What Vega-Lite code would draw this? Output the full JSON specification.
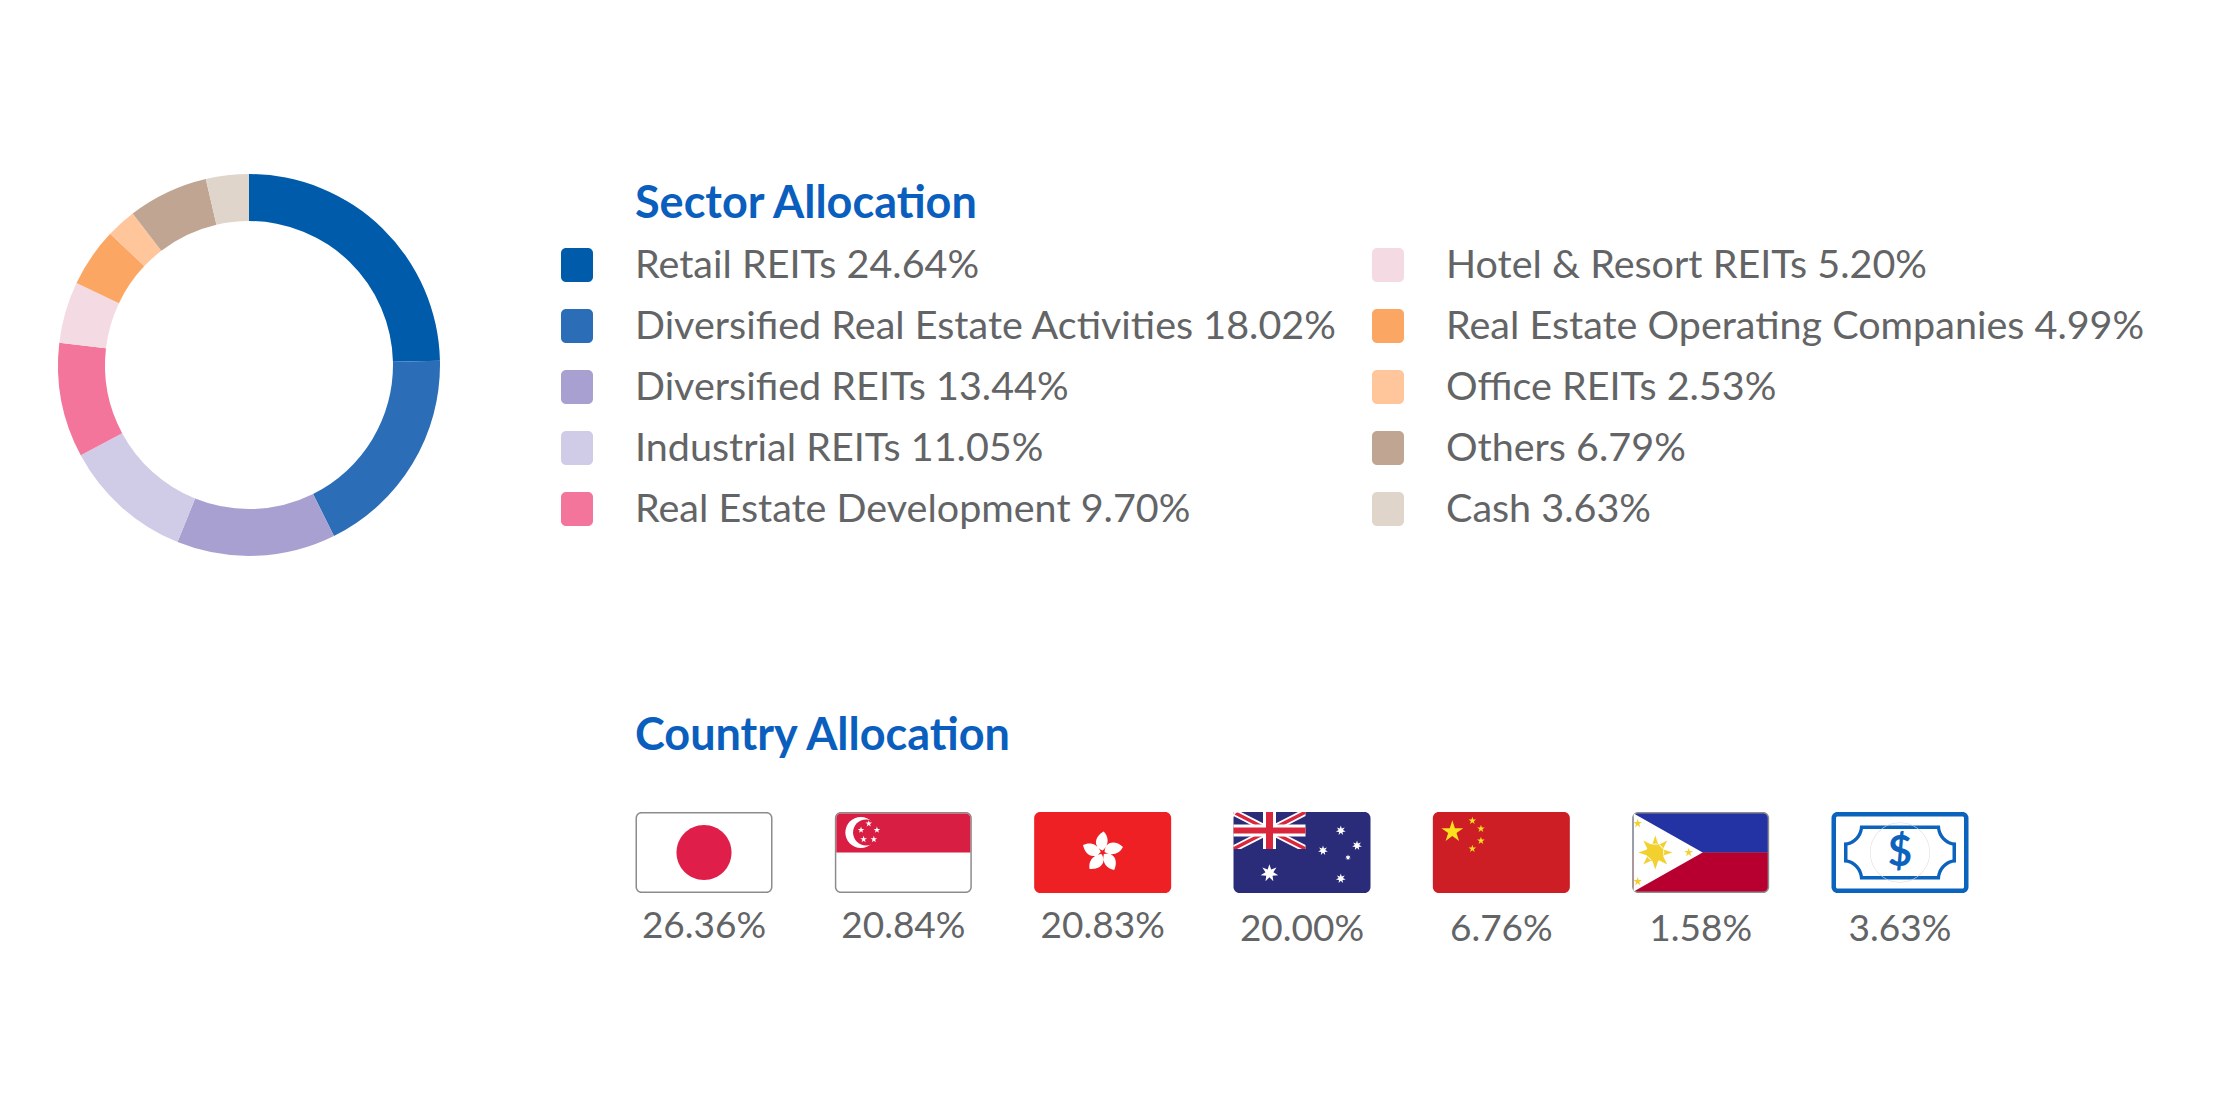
{
  "$schema": "https://vega.github.io/schema/vega-lite/v6.json",
  "background": "white",
  "padding": {"left": 0, "top": 174, "right": 0, "bottom": 109},
  "bounds": "flush",
  "spacing": 63,
  "resolve": {"scale": {"fill": "independent", "color": "independent", "shape": "independent"}},
  "datasets": {
    "sectors": [
      {"sector": "Retail REITs", "share": 24.64, "label": "Retail REITs 24.64%", "rank": 1, "col": 1, "row": 1},
      {"sector": "Diversified Real Estate Activities", "share": 18.02, "label": "Diversified Real Estate Activities 18.02%", "rank": 2, "col": 1, "row": 2},
      {"sector": "Diversified REITs", "share": 13.44, "label": "Diversified REITs 13.44%", "rank": 3, "col": 1, "row": 3},
      {"sector": "Industrial REITs", "share": 11.05, "label": "Industrial REITs 11.05%", "rank": 4, "col": 1, "row": 4},
      {"sector": "Real Estate Development", "share": 9.70, "label": "Real Estate Development 9.70%", "rank": 5, "col": 1, "row": 5},
      {"sector": "Hotel & Resort REITs", "share": 5.20, "label": "Hotel & Resort REITs 5.20%", "rank": 6, "col": 2, "row": 1},
      {"sector": "Real Estate Operating Companies", "share": 4.99, "label": "Real Estate Operating Companies 4.99%", "rank": 7, "col": 2, "row": 2},
      {"sector": "Office REITs", "share": 2.53, "label": "Office REITs 2.53%", "rank": 8, "col": 2, "row": 3},
      {"sector": "Others", "share": 6.79, "label": "Others 6.79%", "rank": 9, "col": 2, "row": 4},
      {"sector": "Cash", "share": 3.63, "label": "Cash 3.63%", "rank": 10, "col": 2, "row": 5}
    ],
    "countries": [
      {"country": "Japan", "label": "26.36%", "line": "upper"},
      {"country": "Singapore", "label": "20.84%", "line": "upper"},
      {"country": "Hong Kong", "label": "20.83%", "line": "upper"},
      {"country": "Australia", "label": "20.00%", "line": "lower"},
      {"country": "China", "label": "6.76%", "line": "lower"},
      {"country": "Philippines", "label": "1.58%", "line": "lower"},
      {"country": "Cash", "label": "3.63%", "line": "lower"}
    ],
    "flag_parts": [
      {"country": "Japan", "part": "jp-frame"},
      {"country": "Japan", "part": "jp-white"},
      {"country": "Japan", "part": "jp-disc"},
      {"country": "Singapore", "part": "sg-frame"},
      {"country": "Singapore", "part": "sg-white"},
      {"country": "Singapore", "part": "sg-red"},
      {"country": "Singapore", "part": "sg-crescent"},
      {"country": "Singapore", "part": "sg-cut"},
      {"country": "Singapore", "part": "sg-stars"},
      {"country": "Hong Kong", "part": "hk-red"},
      {"country": "Hong Kong", "part": "hk-flower"},
      {"country": "Australia", "part": "au-blue"},
      {"country": "Australia", "part": "au-white-diagonals"},
      {"country": "Australia", "part": "au-red-diagonals"},
      {"country": "Australia", "part": "au-white-cross"},
      {"country": "Australia", "part": "au-red-cross"},
      {"country": "Australia", "part": "au-corner"},
      {"country": "Australia", "part": "au-stars"},
      {"country": "China", "part": "cn-red"},
      {"country": "China", "part": "cn-stars"},
      {"country": "Philippines", "part": "ph-frame"},
      {"country": "Philippines", "part": "ph-blue"},
      {"country": "Philippines", "part": "ph-red"},
      {"country": "Philippines", "part": "ph-white"},
      {"country": "Philippines", "part": "ph-gold"},
      {"country": "Cash", "part": "cash-outer"},
      {"country": "Cash", "part": "cash-inner"},
      {"country": "Cash", "part": "cash-note"},
      {"country": "Cash", "part": "cash-note-inner"},
      {"country": "Cash", "part": "cash-ring"}
    ]
  },
  "hconcat": [
    {
      "width": 498,
      "height": 382,
      "data": {"name": "sectors"},
      "mark": {"type": "arc", "innerRadius": 144, "outerRadius": 191},
      "encoding": {
        "theta": {"field": "share", "type": "quantitative", "stack": true},
        "order": {"field": "rank", "type": "quantitative"},
        "color": {
          "field": "sector",
          "type": "nominal",
          "legend": null,
          "scale": {
            "domain": ["Retail REITs", "Diversified Real Estate Activities", "Diversified REITs", "Industrial REITs", "Real Estate Development", "Hotel & Resort REITs", "Real Estate Operating Companies", "Office REITs", "Others", "Cash"],
            "range": ["#005BAA", "#2B6EB7", "#A8A0D0", "#D0CBE6", "#F4759B", "#F3DAE3", "#FBA763", "#FFC59B", "#BFA592", "#E0D5CB"]
          }
        }
      }
    },
    {
      "spacing": 0,
      "bounds": "flush",
      "resolve": {"scale": {"fill": "independent", "color": "independent", "shape": "independent"}},
      "vconcat": [
        {
          "width": 1659,
          "height": 526,
          "encoding": {
            "x": {"field": "col", "type": "ordinal", "axis": null, "scale": {"type": "point", "padding": 0, "domain": [1, 2], "range": [16, 827]}},
            "y": {"field": "row", "type": "ordinal", "axis": null, "scale": {"type": "point", "padding": 0, "domain": [0, 1, 2, 3, 4, 5], "range": [30, 335]}}
          },
          "layer": [
            {
              "data": {"name": "sectors"},
              "mark": {"type": "point", "filled": true, "opacity": 1, "size": 4, "strokeWidth": 0, "shape": "M-16 -12 A5 5 0 0 1 -11 -17 L11 -17 A5 5 0 0 1 16 -12 L16 12 A5 5 0 0 1 11 17 L-11 17 A5 5 0 0 1 -16 12 Z"},
              "encoding": {
                "fill": {
                  "field": "sector",
                  "type": "nominal",
                  "legend": null,
                  "scale": {
                    "domain": ["Retail REITs", "Diversified Real Estate Activities", "Diversified REITs", "Industrial REITs", "Real Estate Development", "Hotel & Resort REITs", "Real Estate Operating Companies", "Office REITs", "Others", "Cash"],
                    "range": ["#005BAA", "#2B6EB7", "#A8A0D0", "#D0CBE6", "#F4759B", "#F3DAE3", "#FBA763", "#FFC59B", "#BFA592", "#E0D5CB"]
                  }
                }
              }
            },
            {
              "data": {"name": "sectors"},
              "mark": {"type": "text", "align": "left", "baseline": "middle", "dx": 58, "dy": 1, "font": "Lato", "fontSize": 39.5, "color": "#636466"},
              "encoding": {"text": {"field": "label"}}
            },
            {
              "data": {"values": [{"col": 1, "row": 0, "heading": "Sector Allocation"}]},
              "mark": {"type": "text", "align": "left", "baseline": "middle", "dx": 58, "dy": 0, "font": "Lato", "fontSize": 45, "fontWeight": "bold", "color": "#0A5EBD"},
              "encoding": {"text": {"field": "heading"}}
            }
          ]
        },
        {
          "width": 1659,
          "height": 305,
          "encoding": {
            "x": {
              "field": "country",
              "type": "nominal",
              "axis": null,
              "scale": {"type": "point", "padding": 0, "domain": ["Japan", "Singapore", "Hong Kong", "Australia", "China", "Philippines", "Cash"], "range": [143, 1339]}
            }
          },
          "layer": [
            {
              "data": {"name": "flag_parts"},
              "mark": {"type": "point", "filled": true, "opacity": 1, "size": 4, "strokeWidth": 0},
              "encoding": {
                "shape": {
                  "field": "part",
                  "type": "nominal",
                  "legend": null,
                  "scale": {
                    "domain": ["jp-frame", "jp-white", "jp-disc", "sg-frame", "sg-white", "sg-red", "sg-crescent", "sg-cut", "sg-stars", "hk-red", "hk-flower", "au-blue", "au-white-diagonals", "au-red-diagonals", "au-white-cross", "au-red-cross", "au-corner", "au-stars", "cn-red", "cn-stars", "ph-frame", "ph-blue", "ph-red", "ph-white", "ph-gold", "cash-outer", "cash-inner", "cash-note", "cash-note-inner", "cash-ring"],
                    "range": [
                      "M-68.5 -34.5 A6 6 0 0 1 -62.5 -40.5 L62.5 -40.5 A6 6 0 0 1 68.5 -34.5 L68.5 34.5 A6 6 0 0 1 62.5 40.5 L-62.5 40.5 A6 6 0 0 1 -68.5 34.5 Z",
                      "M-67 -34.5 A4.5 4.5 0 0 1 -62.5 -39 L62.5 -39 A4.5 4.5 0 0 1 67 -34.5 L67 34.5 A4.5 4.5 0 0 1 62.5 39 L-62.5 39 A4.5 4.5 0 0 1 -67 34.5 Z",
                      "M-27.5 0 A27.5 27.5 0 1 0 27.5 0 A27.5 27.5 0 1 0 -27.5 0 Z",
                      "M-68.5 -34.5 A6 6 0 0 1 -62.5 -40.5 L62.5 -40.5 A6 6 0 0 1 68.5 -34.5 L68.5 34.5 A6 6 0 0 1 62.5 40.5 L-62.5 40.5 A6 6 0 0 1 -68.5 34.5 Z",
                      "M-67 -34.5 A4.5 4.5 0 0 1 -62.5 -39 L62.5 -39 A4.5 4.5 0 0 1 67 -34.5 L67 34.5 A4.5 4.5 0 0 1 62.5 39 L-62.5 39 A4.5 4.5 0 0 1 -67 34.5 Z",
                      "M-67 -34.5 A4.5 4.5 0 0 1 -62.5 -39 L62.5 -39 A4.5 4.5 0 0 1 67 -34.5 L67 0 L-67 0 Z",
                      "M-58 -20 A15.5 15.5 0 1 0 -27 -20 A15.5 15.5 0 1 0 -58 -20 Z",
                      "M-50.3 -20 A13 13 0 1 0 -24.3 -20 A13 13 0 1 0 -50.3 -20 Z",
                      "M-34.6 -32.3 l 0.79 2.42 l 2.54 0 l -2.06 1.49 l 0.79 2.42 l -2.06 -1.49 l -2.06 1.49 l 0.79 -2.42 l -2.06 -1.49 l 2.54 0 Z M-42.3 -26 l 0.79 2.42 l 2.54 0 l -2.06 1.49 l 0.79 2.42 l -2.06 -1.49 l -2.06 1.49 l 0.79 -2.42 l -2.06 -1.49 l 2.54 0 Z M-26.4 -26 l 0.79 2.42 l 2.54 0 l -2.06 1.49 l 0.79 2.42 l -2.06 -1.49 l -2.06 1.49 l 0.79 -2.42 l -2.06 -1.49 l 2.54 0 Z M-39.7 -16.7 l 0.79 2.42 l 2.54 0 l -2.06 1.49 l 0.79 2.42 l -2.06 -1.49 l -2.06 1.49 l 0.79 -2.42 l -2.06 -1.49 l 2.54 0 Z M-29.5 -16.7 l 0.79 2.42 l 2.54 0 l -2.06 1.49 l 0.79 2.42 l -2.06 -1.49 l -2.06 1.49 l 0.79 -2.42 l -2.06 -1.49 l 2.54 0 Z",
                      "M-68.5 -34.5 A6 6 0 0 1 -62.5 -40.5 L62.5 -40.5 A6 6 0 0 1 68.5 -34.5 L68.5 34.5 A6 6 0 0 1 62.5 40.5 L-62.5 40.5 A6 6 0 0 1 -68.5 34.5 Z",
                      "M0 -2 C-10 -6 -8 -16 1 -21 C6 -16 7 -8 0 -2 Z M1.9 -0.62 C2.62 -11.36 12.75 -12.55 20.28 -5.54 C17.07 0.77 9.77 4.19 1.9 -0.62 Z M1.18 1.62 C11.62 -1.03 15.88 8.24 11.54 17.57 C4.56 16.47 -0.96 10.59 1.18 1.62 Z M-1.18 1.62 C4.56 10.73 -2.94 17.64 -13.16 16.4 C-14.26 9.41 -10.36 2.35 -1.18 1.62 Z M-1.9 -0.62 C-8.8 7.66 -17.69 2.67 -19.66 -7.44 C-13.37 -10.65 -5.45 -9.13 -1.9 -0.62 Z",
                      "M-68.5 -34.5 A6 6 0 0 1 -62.5 -40.5 L62.5 -40.5 A6 6 0 0 1 68.5 -34.5 L68.5 34.5 A6 6 0 0 1 62.5 40.5 L-62.5 40.5 A6 6 0 0 1 -68.5 34.5 Z",
                      "M-68.5 -36.5 L-68.5 -40.5 L-61 -40.5 L3.5 -7.5 L3.5 -3.5 L-4 -3.5 Z M-68.5 -7.5 L-68.5 -3.5 L-61 -3.5 L3.5 -36.5 L3.5 -40.5 L-4 -40.5 Z",
                      "M-68.5 -40.5 L-65 -40.5 L3.5 -5.5 L3.5 -3.5 L0 -3.5 L-68.5 -38.5 Z M-68.5 -3.5 L-65 -3.5 L3.5 -38.5 L3.5 -40.5 L0 -40.5 L-68.5 -5.5 Z",
                      "M-39 -40.5 L-26 -40.5 L-26 -28 L3.5 -28 L3.5 -16 L-26 -16 L-26 -3.5 L-39 -3.5 L-39 -16 L-68.5 -16 L-68.5 -28 L-39 -28 Z",
                      "M-36 -40.5 L-29 -40.5 L-29 -25 L3.5 -25 L3.5 -19 L-29 -19 L-29 -3.5 L-36 -3.5 L-36 -19 L-68.5 -19 L-68.5 -25 L-36 -25 Z",
                      "M-68.5 -40.5 L-62.5 -40.5 A6 6 0 0 0 -68.5 -34.5 Z",
                      "M-32.6 11.7 L-30.84 17.05 L-25.56 15.09 L-28.65 19.8 L-23.82 22.71 L-29.43 23.22 L-28.69 28.81 L-32.6 24.75 L-36.51 28.81 L-35.77 23.22 L-41.38 22.71 L-36.55 19.8 L-39.64 15.09 L-34.36 17.05 Z M38.8 -27 l 0.98 2.97 l 2.93 -1.09 l -1.72 2.62 l 2.69 1.62 l -3.12 0.28 l 0.41 3.1 l -2.17 -2.25 l -2.17 2.25 l 0.41 -3.1 l -3.12 -0.28 l 2.69 -1.62 l -1.72 -2.62 l 2.93 1.09 Z M55 -12 l 0.98 2.97 l 2.93 -1.09 l -1.72 2.62 l 2.69 1.62 l -3.12 0.28 l 0.41 3.1 l -2.17 -2.25 l -2.17 2.25 l 0.41 -3.1 l -3.12 -0.28 l 2.69 -1.62 l -1.72 -2.62 l 2.93 1.09 Z M21 -7 l 0.98 2.97 l 2.93 -1.09 l -1.72 2.62 l 2.69 1.62 l -3.12 0.28 l 0.41 3.1 l -2.17 -2.25 l -2.17 2.25 l 0.41 -3.1 l -3.12 -0.28 l 2.69 -1.62 l -1.72 -2.62 l 2.93 1.09 Z M38.8 21 l 0.98 2.97 l 2.93 -1.09 l -1.72 2.62 l 2.69 1.62 l -3.12 0.28 l 0.41 3.1 l -2.17 -2.25 l -2.17 2.25 l 0.41 -3.1 l -3.12 -0.28 l 2.69 -1.62 l -1.72 -2.62 l 2.93 1.09 Z M46 2 l 0.59 1.78 l 1.76 -0.65 l -1.03 1.57 l 1.61 0.97 l -1.87 0.17 l 0.25 1.86 l -1.3 -1.35 l -1.3 1.35 l 0.25 -1.86 l -1.87 -0.17 l 1.61 -0.97 l -1.03 -1.57 l 1.76 0.65 Z",
                      "M-68.5 -34.5 A6 6 0 0 1 -62.5 -40.5 L62.5 -40.5 A6 6 0 0 1 68.5 -34.5 L68.5 34.5 A6 6 0 0 1 62.5 40.5 L-62.5 40.5 A6 6 0 0 1 -68.5 34.5 Z",
                      "M-49 -32.3 l 2.58 7.95 l 8.35 0 l -6.76 4.91 l 2.59 7.95 l -6.76 -4.91 l -6.76 4.91 l 2.59 -7.95 l -6.76 -4.91 l 8.35 0 Z M-29 -35.8 l 0.9 2.76 l 2.91 0 l -2.35 1.71 l 0.9 2.76 l -2.35 -1.71 l -2.35 1.71 l 0.9 -2.76 l -2.35 -1.71 l 2.91 0 Z M-20.4 -27.8 l 0.9 2.76 l 2.91 0 l -2.35 1.71 l 0.9 2.76 l -2.35 -1.71 l -2.35 1.71 l 0.9 -2.76 l -2.35 -1.71 l 2.91 0 Z M-20.4 -15.8 l 0.9 2.76 l 2.91 0 l -2.35 1.71 l 0.9 2.76 l -2.35 -1.71 l -2.35 1.71 l 0.9 -2.76 l -2.35 -1.71 l 2.91 0 Z M-29 -7.8 l 0.9 2.76 l 2.91 0 l -2.35 1.71 l 0.9 2.76 l -2.35 -1.71 l -2.35 1.71 l 0.9 -2.76 l -2.35 -1.71 l 2.91 0 Z",
                      "M-68.5 -34.5 A6 6 0 0 1 -62.5 -40.5 L62.5 -40.5 A6 6 0 0 1 68.5 -34.5 L68.5 34.5 A6 6 0 0 1 62.5 40.5 L-62.5 40.5 A6 6 0 0 1 -68.5 34.5 Z",
                      "M-67 -34.5 A4.5 4.5 0 0 1 -62.5 -39 L62.5 -39 A4.5 4.5 0 0 1 67 -34.5 L67 0 L-67 0 Z",
                      "M-67 0 L67 0 L67 34.5 A4.5 4.5 0 0 1 62.5 39 L-62.5 39 A4.5 4.5 0 0 1 -67 34.5 Z",
                      "M-67 -39 L2 0 L-67 39 Z",
                      "M-54.4 0 A9 9 0 1 0 -36.4 0 A9 9 0 1 0 -54.4 0 Z M-48.4 -8 L-45.4 -17 L-42.4 -8 Z M-48.4 8 L-45.4 17 L-42.4 8 Z M-53.4 -3 L-62.4 0 L-53.4 3 Z M-37.4 -3 L-28.4 0 L-37.4 3 Z M-41.86 -7.78 L-33.4 -12 L-37.62 -3.54 Z M-48.94 -7.78 L-57.4 -12 L-53.18 -3.54 Z M-41.86 7.78 L-33.4 12 L-37.62 3.54 Z M-48.94 7.78 L-57.4 12 L-53.18 3.54 Z M-63 -33.5 l 1.01 3.11 l 3.27 0 l -2.65 1.92 l 1.01 3.11 l -2.65 -1.92 l -2.65 1.92 l 1.01 -3.11 l -2.65 -1.92 l 3.27 0 Z M-63 24.5 l 1.01 3.11 l 3.27 0 l -2.65 1.92 l 1.01 3.11 l -2.65 -1.92 l -2.65 1.92 l 1.01 -3.11 l -2.65 -1.92 l 3.27 0 Z M-12 -4.5 l 1.01 3.11 l 3.27 0 l -2.65 1.92 l 1.01 3.11 l -2.65 -1.92 l -2.65 1.92 l 1.01 -3.11 l -2.65 -1.92 l 3.27 0 Z",
                      "M-68.5 -34.5 A6 6 0 0 1 -62.5 -40.5 L62.5 -40.5 A6 6 0 0 1 68.5 -34.5 L68.5 34.5 A6 6 0 0 1 62.5 40.5 L-62.5 40.5 A6 6 0 0 1 -68.5 34.5 Z",
                      "M-64 -34.5 A1.5 1.5 0 0 1 -62.5 -36 L62.5 -36 A1.5 1.5 0 0 1 64 -34.5 L64 34.5 A1.5 1.5 0 0 1 62.5 36 L-62.5 36 A1.5 1.5 0 0 1 -64 34.5 Z",
                      "M-40 -27 L40 -27 A16 17 0 0 0 56 -10 L56 10 A16 17 0 0 0 40 27 L-40 27 A16 17 0 0 0 -56 10 L-56 -10 A16 17 0 0 0 -40 -27 Z",
                      "M-37 -23.5 L37 -23.5 A19 20 0 0 0 52.5 -7 L52.5 7 A19 20 0 0 0 37 23.5 L-37 23.5 A19 20 0 0 0 -52.5 7 L-52.5 -7 A19 20 0 0 0 -37 -23.5 Z",
                      "M-30 0 A30 30 0 1 0 30 0 A30 30 0 1 0 -30 0 Z M-29.5 0 A29.5 29.5 0 1 1 29.5 0 A29.5 29.5 0 1 1 -29.5 0 Z"
                    ]
                  }
                },
                "fill": {
                  "field": "part",
                  "type": "nominal",
                  "legend": null,
                  "scale": {
                    "domain": ["jp-frame", "jp-white", "jp-disc", "sg-frame", "sg-white", "sg-red", "sg-crescent", "sg-cut", "sg-stars", "hk-red", "hk-flower", "au-blue", "au-white-diagonals", "au-red-diagonals", "au-white-cross", "au-red-cross", "au-corner", "au-stars", "cn-red", "cn-stars", "ph-frame", "ph-blue", "ph-red", "ph-white", "ph-gold", "cash-outer", "cash-inner", "cash-note", "cash-note-inner", "cash-ring"],
                    "range": ["#8C8C8C", "#FFFFFF", "#E01E4A", "#8C8C8C", "#FFFFFF", "#D81E43", "#FFFFFF", "#D81E43", "#FFFFFF", "#EE2024", "#FFFFFF", "#2A2C7A", "#FFFFFF", "#D9263C", "#FFFFFF", "#D9263C", "#FFFFFF", "#FFFFFF", "#CC1E24", "#F9E11E", "#8C8C8C", "#2433A3", "#B7002F", "#FFFFFF", "#F2D02E", "#0B63BD", "#FFFFFF", "#0B63BD", "#FFFFFF", "#D9D9D9"]
                  }
                }
              }
            },
            {
              "data": {"values": [{"country": "Cash", "glyph": "$"}]},
              "mark": {"type": "text", "align": "center", "baseline": "middle", "font": "Lato", "fontSize": 42, "fontWeight": "bold", "color": "#0B63BD"},
              "encoding": {"text": {"field": "glyph"}}
            },
            {
              "data": {"name": "countries"},
              "transform": [{"filter": "datum.line == 'upper'"}],
              "mark": {"type": "text", "align": "center", "baseline": "middle", "dy": 74, "font": "Lato", "fontSize": 37, "color": "#636466"},
              "encoding": {"text": {"field": "label"}}
            },
            {
              "data": {"name": "countries"},
              "transform": [{"filter": "datum.line == 'lower'"}],
              "mark": {"type": "text", "align": "center", "baseline": "middle", "dy": 77, "font": "Lato", "fontSize": 37, "color": "#636466"},
              "encoding": {"text": {"field": "label"}}
            },
            {
              "data": {"values": [{"country": "Japan", "heading": "Country Allocation"}]},
              "mark": {"type": "text", "align": "left", "baseline": "middle", "dx": -69, "dy": -117, "font": "Lato", "fontSize": 45, "fontWeight": "bold", "color": "#0A5EBD"},
              "encoding": {"text": {"field": "heading"}}
            }
          ]
        }
      ]
    }
  ],
  "config": {"view": {"stroke": null}}
}
